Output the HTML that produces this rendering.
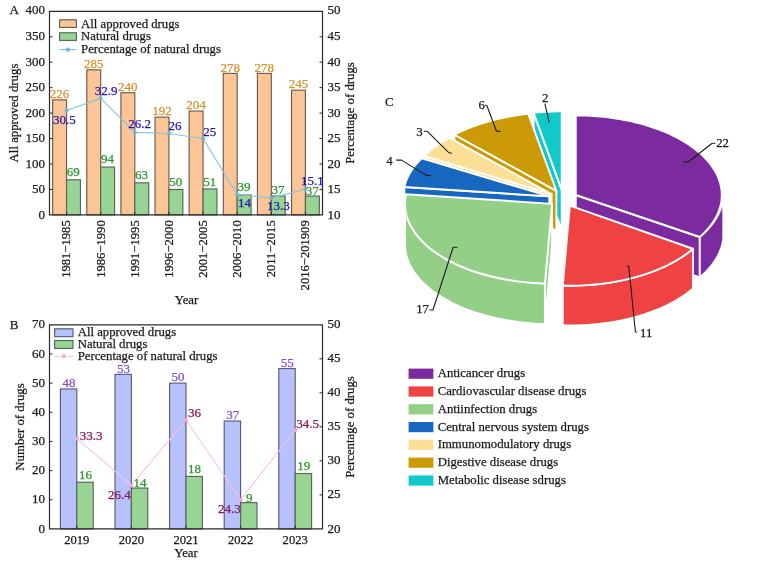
<!DOCTYPE html>
<html><head><meta charset="utf-8"><title>Figure</title>
<style>html,body{margin:0;padding:0;background:#fff}svg{display:block;will-change:transform;filter:blur(0.4px)}text{font-family:'Liberation Serif', serif;}</style></head><body>
<svg width="766" height="582" viewBox="0 0 766 582">
<rect width="766" height="582" fill="#fff"/>
<rect x="52.66" y="99.87" width="13.9" height="115.03" fill="#fbc595" stroke="#6b5c50" stroke-width="1.15"/>
<rect x="66.56" y="179.78" width="13.9" height="35.12" fill="#98d494" stroke="#56665a" stroke-width="1.15"/>
<rect x="86.79" y="69.84" width="13.9" height="145.06" fill="#fbc595" stroke="#6b5c50" stroke-width="1.15"/>
<rect x="100.69" y="167.05" width="13.9" height="47.85" fill="#98d494" stroke="#56665a" stroke-width="1.15"/>
<rect x="120.91" y="92.74" width="13.9" height="122.16" fill="#fbc595" stroke="#6b5c50" stroke-width="1.15"/>
<rect x="134.81" y="182.83" width="13.9" height="32.07" fill="#98d494" stroke="#56665a" stroke-width="1.15"/>
<rect x="155.04" y="117.17" width="13.9" height="97.73" fill="#fbc595" stroke="#6b5c50" stroke-width="1.15"/>
<rect x="168.94" y="189.45" width="13.9" height="25.45" fill="#98d494" stroke="#56665a" stroke-width="1.15"/>
<rect x="189.16" y="111.06" width="13.9" height="103.84" fill="#fbc595" stroke="#6b5c50" stroke-width="1.15"/>
<rect x="203.06" y="188.94" width="13.9" height="25.96" fill="#98d494" stroke="#56665a" stroke-width="1.15"/>
<rect x="223.29" y="73.4" width="13.9" height="141.5" fill="#fbc595" stroke="#6b5c50" stroke-width="1.15"/>
<rect x="237.19" y="195.05" width="13.9" height="19.85" fill="#98d494" stroke="#56665a" stroke-width="1.15"/>
<rect x="257.41" y="73.4" width="13.9" height="141.5" fill="#fbc595" stroke="#6b5c50" stroke-width="1.15"/>
<rect x="271.31" y="196.07" width="13.9" height="18.83" fill="#98d494" stroke="#56665a" stroke-width="1.15"/>
<rect x="291.54" y="90.19" width="13.9" height="124.71" fill="#fbc595" stroke="#6b5c50" stroke-width="1.15"/>
<rect x="305.44" y="196.07" width="13.9" height="18.83" fill="#98d494" stroke="#56665a" stroke-width="1.15"/>
<path d="M49.5 11.3H322.5V214.9H49.5Z" fill="none" stroke="#2b2b2b" stroke-width="1.2"/>
<text transform="translate(45 218.5) scale(1 1)" font-size="13" fill="#1a1a1a" stroke="#1a1a1a" stroke-width="0.25" text-anchor="end">0</text>
<path d="M49.5 189.45h3" stroke="#2b2b2b" stroke-width="1"/>
<text transform="translate(45 193.05) scale(1 1)" font-size="13" fill="#1a1a1a" stroke="#1a1a1a" stroke-width="0.25" text-anchor="end">50</text>
<path d="M49.5 164h3" stroke="#2b2b2b" stroke-width="1"/>
<text transform="translate(45 167.6) scale(1 1)" font-size="13" fill="#1a1a1a" stroke="#1a1a1a" stroke-width="0.25" text-anchor="end">100</text>
<path d="M49.5 138.55h3" stroke="#2b2b2b" stroke-width="1"/>
<text transform="translate(45 142.15) scale(1 1)" font-size="13" fill="#1a1a1a" stroke="#1a1a1a" stroke-width="0.25" text-anchor="end">150</text>
<path d="M49.5 113.1h3" stroke="#2b2b2b" stroke-width="1"/>
<text transform="translate(45 116.7) scale(1 1)" font-size="13" fill="#1a1a1a" stroke="#1a1a1a" stroke-width="0.25" text-anchor="end">200</text>
<path d="M49.5 87.65h3" stroke="#2b2b2b" stroke-width="1"/>
<text transform="translate(45 91.25) scale(1 1)" font-size="13" fill="#1a1a1a" stroke="#1a1a1a" stroke-width="0.25" text-anchor="end">250</text>
<path d="M49.5 62.2h3" stroke="#2b2b2b" stroke-width="1"/>
<text transform="translate(45 65.8) scale(1 1)" font-size="13" fill="#1a1a1a" stroke="#1a1a1a" stroke-width="0.25" text-anchor="end">300</text>
<path d="M49.5 36.75h3" stroke="#2b2b2b" stroke-width="1"/>
<text transform="translate(45 40.35) scale(1 1)" font-size="13" fill="#1a1a1a" stroke="#1a1a1a" stroke-width="0.25" text-anchor="end">350</text>
<text transform="translate(45 14.3) scale(1 1)" font-size="13" fill="#1a1a1a" stroke="#1a1a1a" stroke-width="0.25" text-anchor="end">400</text>
<text transform="translate(327.5 218.5) scale(1 1)" font-size="13" fill="#1a1a1a" stroke="#1a1a1a" stroke-width="0.25" text-anchor="start">10</text>
<path d="M322.5 189.45h-3" stroke="#2b2b2b" stroke-width="1"/>
<text transform="translate(327.5 193.05) scale(1 1)" font-size="13" fill="#1a1a1a" stroke="#1a1a1a" stroke-width="0.25" text-anchor="start">15</text>
<path d="M322.5 164h-3" stroke="#2b2b2b" stroke-width="1"/>
<text transform="translate(327.5 167.6) scale(1 1)" font-size="13" fill="#1a1a1a" stroke="#1a1a1a" stroke-width="0.25" text-anchor="start">20</text>
<path d="M322.5 138.55h-3" stroke="#2b2b2b" stroke-width="1"/>
<text transform="translate(327.5 142.15) scale(1 1)" font-size="13" fill="#1a1a1a" stroke="#1a1a1a" stroke-width="0.25" text-anchor="start">25</text>
<path d="M322.5 113.1h-3" stroke="#2b2b2b" stroke-width="1"/>
<text transform="translate(327.5 116.7) scale(1 1)" font-size="13" fill="#1a1a1a" stroke="#1a1a1a" stroke-width="0.25" text-anchor="start">30</text>
<path d="M322.5 87.65h-3" stroke="#2b2b2b" stroke-width="1"/>
<text transform="translate(327.5 91.25) scale(1 1)" font-size="13" fill="#1a1a1a" stroke="#1a1a1a" stroke-width="0.25" text-anchor="start">35</text>
<path d="M322.5 62.2h-3" stroke="#2b2b2b" stroke-width="1"/>
<text transform="translate(327.5 65.8) scale(1 1)" font-size="13" fill="#1a1a1a" stroke="#1a1a1a" stroke-width="0.25" text-anchor="start">40</text>
<path d="M322.5 36.75h-3" stroke="#2b2b2b" stroke-width="1"/>
<text transform="translate(327.5 40.35) scale(1 1)" font-size="13" fill="#1a1a1a" stroke="#1a1a1a" stroke-width="0.25" text-anchor="start">45</text>
<text transform="translate(327.5 14.3) scale(1 1)" font-size="13" fill="#1a1a1a" stroke="#1a1a1a" stroke-width="0.25" text-anchor="start">50</text>
<path d="M66.56 214.9v-3" stroke="#2b2b2b" stroke-width="1"/>
<text transform="translate(70.46 220.3) rotate(-90) scale(1 1)" font-size="12.6" fill="#1a1a1a" stroke="#1a1a1a" stroke-width="0.25" text-anchor="end">1981−1985</text>
<path d="M100.69 214.9v-3" stroke="#2b2b2b" stroke-width="1"/>
<text transform="translate(104.59 220.3) rotate(-90) scale(1 1)" font-size="12.6" fill="#1a1a1a" stroke="#1a1a1a" stroke-width="0.25" text-anchor="end">1986−1990</text>
<path d="M134.81 214.9v-3" stroke="#2b2b2b" stroke-width="1"/>
<text transform="translate(138.71 220.3) rotate(-90) scale(1 1)" font-size="12.6" fill="#1a1a1a" stroke="#1a1a1a" stroke-width="0.25" text-anchor="end">1991−1995</text>
<path d="M168.94 214.9v-3" stroke="#2b2b2b" stroke-width="1"/>
<text transform="translate(172.84 220.3) rotate(-90) scale(1 1)" font-size="12.6" fill="#1a1a1a" stroke="#1a1a1a" stroke-width="0.25" text-anchor="end">1996−2000</text>
<path d="M203.06 214.9v-3" stroke="#2b2b2b" stroke-width="1"/>
<text transform="translate(206.96 220.3) rotate(-90) scale(1 1)" font-size="12.6" fill="#1a1a1a" stroke="#1a1a1a" stroke-width="0.25" text-anchor="end">2001−2005</text>
<path d="M237.19 214.9v-3" stroke="#2b2b2b" stroke-width="1"/>
<text transform="translate(241.09 220.3) rotate(-90) scale(1 1)" font-size="12.6" fill="#1a1a1a" stroke="#1a1a1a" stroke-width="0.25" text-anchor="end">2006−2010</text>
<path d="M271.31 214.9v-3" stroke="#2b2b2b" stroke-width="1"/>
<text transform="translate(275.21 220.3) rotate(-90) scale(1 1)" font-size="12.6" fill="#1a1a1a" stroke="#1a1a1a" stroke-width="0.25" text-anchor="end">2011−2015</text>
<path d="M305.44 214.9v-3" stroke="#2b2b2b" stroke-width="1"/>
<text transform="translate(309.34 220.3) rotate(-90) scale(1 1)" font-size="12.6" fill="#1a1a1a" stroke="#1a1a1a" stroke-width="0.25" text-anchor="end">2016−201909</text>
<polyline points="66.56,110.56 100.69,98.34 134.81,132.44 168.94,133.46 203.06,138.55 237.19,194.54 271.31,198.1 305.44,188.94" fill="none" stroke="#86c5dc" stroke-width="1.15" stroke-linejoin="round"/>
<circle cx="66.56" cy="110.56" r="1.95" fill="#66bad6"/>
<circle cx="100.69" cy="98.34" r="1.95" fill="#66bad6"/>
<circle cx="134.81" cy="132.44" r="1.95" fill="#66bad6"/>
<circle cx="168.94" cy="133.46" r="1.95" fill="#66bad6"/>
<circle cx="203.06" cy="138.55" r="1.95" fill="#66bad6"/>
<circle cx="237.19" cy="194.54" r="1.95" fill="#66bad6"/>
<circle cx="271.31" cy="198.1" r="1.95" fill="#66bad6"/>
<circle cx="305.44" cy="188.94" r="1.95" fill="#66bad6"/>
<text transform="translate(59.61 97.97) scale(1 1)" font-size="13" fill="#d8902a" stroke="#d8902a" stroke-width="0.25" text-anchor="middle">226</text>
<text transform="translate(93.74 67.94) scale(1 1)" font-size="13" fill="#d8902a" stroke="#d8902a" stroke-width="0.25" text-anchor="middle">285</text>
<text transform="translate(127.86 90.84) scale(1 1)" font-size="13" fill="#d8902a" stroke="#d8902a" stroke-width="0.25" text-anchor="middle">240</text>
<text transform="translate(161.99 115.27) scale(1 1)" font-size="13" fill="#d8902a" stroke="#d8902a" stroke-width="0.25" text-anchor="middle">192</text>
<text transform="translate(196.11 109.16) scale(1 1)" font-size="13" fill="#d8902a" stroke="#d8902a" stroke-width="0.25" text-anchor="middle">204</text>
<text transform="translate(230.24 71.5) scale(1 1)" font-size="13" fill="#d8902a" stroke="#d8902a" stroke-width="0.25" text-anchor="middle">278</text>
<text transform="translate(264.36 71.5) scale(1 1)" font-size="13" fill="#d8902a" stroke="#d8902a" stroke-width="0.25" text-anchor="middle">278</text>
<text transform="translate(298.49 88.29) scale(1 1)" font-size="13" fill="#d8902a" stroke="#d8902a" stroke-width="0.25" text-anchor="middle">245</text>
<text transform="translate(73.31 176.18) scale(1 1)" font-size="13" fill="#2a962a" stroke="#2a962a" stroke-width="0.25" text-anchor="middle">69</text>
<text transform="translate(107.44 163.45) scale(1 1)" font-size="13" fill="#2a962a" stroke="#2a962a" stroke-width="0.25" text-anchor="middle">94</text>
<text transform="translate(141.56 179.23) scale(1 1)" font-size="13" fill="#2a962a" stroke="#2a962a" stroke-width="0.25" text-anchor="middle">63</text>
<text transform="translate(175.69 186.05) scale(1 1)" font-size="13" fill="#2a962a" stroke="#2a962a" stroke-width="0.25" text-anchor="middle">50</text>
<text transform="translate(209.81 185.54) scale(1 1)" font-size="13" fill="#2a962a" stroke="#2a962a" stroke-width="0.25" text-anchor="middle">51</text>
<text transform="translate(243.94 191.05) scale(1 1)" font-size="13" fill="#2a962a" stroke="#2a962a" stroke-width="0.25" text-anchor="middle">39</text>
<text transform="translate(278.06 193.77) scale(1 1)" font-size="13" fill="#2a962a" stroke="#2a962a" stroke-width="0.25" text-anchor="middle">37</text>
<text transform="translate(312.19 195.07) scale(1 1)" font-size="13" fill="#2a962a" stroke="#2a962a" stroke-width="0.25" text-anchor="middle">37</text>
<text transform="translate(53 124.2) scale(1 1)" font-size="13" fill="#2216b5" stroke="#2216b5" stroke-width="0.25" text-anchor="start">30.5</text>
<text transform="translate(94.8 94.8) scale(1 1)" font-size="13" fill="#2216b5" stroke="#2216b5" stroke-width="0.25" text-anchor="start">32.9</text>
<text transform="translate(128.3 127.7) scale(1 1)" font-size="13" fill="#2216b5" stroke="#2216b5" stroke-width="0.25" text-anchor="start">26.2</text>
<text transform="translate(168.6 130) scale(1 1)" font-size="13" fill="#2216b5" stroke="#2216b5" stroke-width="0.25" text-anchor="start">26</text>
<text transform="translate(203.2 135.7) scale(1 1)" font-size="13" fill="#2216b5" stroke="#2216b5" stroke-width="0.25" text-anchor="start">25</text>
<text transform="translate(238 207.4) scale(1 1)" font-size="13" fill="#2216b5" stroke="#2216b5" stroke-width="0.25" text-anchor="start">14</text>
<text transform="translate(267 210.2) scale(1 1)" font-size="13" fill="#2216b5" stroke="#2216b5" stroke-width="0.25" text-anchor="start">13.3</text>
<text transform="translate(301 184.7) scale(1 1)" font-size="13" fill="#2216b5" stroke="#2216b5" stroke-width="0.25" text-anchor="start">15.1</text>
<rect x="59.6" y="19.8" width="16.8" height="7.6" fill="#fbc595" stroke="#6b5c50" stroke-width="1.15"/>
<rect x="59.6" y="32.8" width="16.8" height="7.6" fill="#98d494" stroke="#56665a" stroke-width="1.15"/>
<path d="M59.4 49.6h17" stroke="#86c5dc" stroke-width="1.15"/>
<circle cx="67.9" cy="49.6" r="2.2" fill="#6bbcd8"/>
<text transform="translate(81.1 27.5) scale(1 1)" font-size="12.75" fill="#1a1a1a" stroke="#1a1a1a" stroke-width="0.25" text-anchor="start">All approved drugs</text>
<text transform="translate(81.1 40.3) scale(1 1)" font-size="12.75" fill="#1a1a1a" stroke="#1a1a1a" stroke-width="0.25" text-anchor="start">Natural drugs</text>
<text transform="translate(81.1 53.2) scale(1 1)" font-size="12.75" fill="#1a1a1a" stroke="#1a1a1a" stroke-width="0.25" text-anchor="start">Percentage of natural drugs</text>
<text transform="translate(9.6 14.1) scale(1 1)" font-size="13" fill="#1a1a1a" stroke="#1a1a1a" stroke-width="0.25" text-anchor="start">A</text>
<text transform="translate(17.9 113) rotate(-90) scale(1 1)" font-size="12.8" fill="#1a1a1a" stroke="#1a1a1a" stroke-width="0.25" text-anchor="middle">All approved drugs</text>
<text transform="translate(354 113) rotate(-90) scale(1 1)" font-size="12.8" fill="#1a1a1a" stroke="#1a1a1a" stroke-width="0.25" text-anchor="middle">Percentage of drugs</text>
<text transform="translate(186.5 303.8) scale(1 1)" font-size="12.8" fill="#1a1a1a" stroke="#1a1a1a" stroke-width="0.25" text-anchor="middle">Year</text>
<rect x="60.4" y="388.95" width="16.4" height="139.95" fill="#b7c1fb" stroke="#585c78" stroke-width="1.15"/>
<rect x="76.8" y="482.25" width="16.4" height="46.65" fill="#98d494" stroke="#56665a" stroke-width="1.15"/>
<rect x="115" y="374.37" width="16.4" height="154.53" fill="#b7c1fb" stroke="#585c78" stroke-width="1.15"/>
<rect x="131.4" y="488.08" width="16.4" height="40.82" fill="#98d494" stroke="#56665a" stroke-width="1.15"/>
<rect x="169.6" y="383.11" width="16.4" height="145.79" fill="#b7c1fb" stroke="#585c78" stroke-width="1.15"/>
<rect x="186" y="476.42" width="16.4" height="52.48" fill="#98d494" stroke="#56665a" stroke-width="1.15"/>
<rect x="224.2" y="421.02" width="16.4" height="107.88" fill="#b7c1fb" stroke="#585c78" stroke-width="1.15"/>
<rect x="240.6" y="502.66" width="16.4" height="26.24" fill="#98d494" stroke="#56665a" stroke-width="1.15"/>
<rect x="278.8" y="368.54" width="16.4" height="160.36" fill="#b7c1fb" stroke="#585c78" stroke-width="1.15"/>
<rect x="295.2" y="473.5" width="16.4" height="55.4" fill="#98d494" stroke="#56665a" stroke-width="1.15"/>
<path d="M49.5 324.8H322.5V528.9H49.5Z" fill="none" stroke="#2b2b2b" stroke-width="1.2"/>
<text transform="translate(45 532.5) scale(1 1)" font-size="13" fill="#1a1a1a" stroke="#1a1a1a" stroke-width="0.25" text-anchor="end">0</text>
<path d="M49.5 499.74h3" stroke="#2b2b2b" stroke-width="1"/>
<text transform="translate(45 503.34) scale(1 1)" font-size="13" fill="#1a1a1a" stroke="#1a1a1a" stroke-width="0.25" text-anchor="end">10</text>
<path d="M49.5 470.59h3" stroke="#2b2b2b" stroke-width="1"/>
<text transform="translate(45 474.19) scale(1 1)" font-size="13" fill="#1a1a1a" stroke="#1a1a1a" stroke-width="0.25" text-anchor="end">20</text>
<path d="M49.5 441.43h3" stroke="#2b2b2b" stroke-width="1"/>
<text transform="translate(45 445.03) scale(1 1)" font-size="13" fill="#1a1a1a" stroke="#1a1a1a" stroke-width="0.25" text-anchor="end">30</text>
<path d="M49.5 412.27h3" stroke="#2b2b2b" stroke-width="1"/>
<text transform="translate(45 415.87) scale(1 1)" font-size="13" fill="#1a1a1a" stroke="#1a1a1a" stroke-width="0.25" text-anchor="end">40</text>
<path d="M49.5 383.11h3" stroke="#2b2b2b" stroke-width="1"/>
<text transform="translate(45 386.71) scale(1 1)" font-size="13" fill="#1a1a1a" stroke="#1a1a1a" stroke-width="0.25" text-anchor="end">50</text>
<path d="M49.5 353.96h3" stroke="#2b2b2b" stroke-width="1"/>
<text transform="translate(45 357.56) scale(1 1)" font-size="13" fill="#1a1a1a" stroke="#1a1a1a" stroke-width="0.25" text-anchor="end">60</text>
<text transform="translate(45 327.8) scale(1 1)" font-size="13" fill="#1a1a1a" stroke="#1a1a1a" stroke-width="0.25" text-anchor="end">70</text>
<text transform="translate(327.5 532.5) scale(1 1)" font-size="13" fill="#1a1a1a" stroke="#1a1a1a" stroke-width="0.25" text-anchor="start">20</text>
<path d="M322.5 494.88h-3" stroke="#2b2b2b" stroke-width="1"/>
<text transform="translate(327.5 498.48) scale(1 1)" font-size="13" fill="#1a1a1a" stroke="#1a1a1a" stroke-width="0.25" text-anchor="start">25</text>
<path d="M322.5 460.87h-3" stroke="#2b2b2b" stroke-width="1"/>
<text transform="translate(327.5 464.47) scale(1 1)" font-size="13" fill="#1a1a1a" stroke="#1a1a1a" stroke-width="0.25" text-anchor="start">30</text>
<path d="M322.5 426.85h-3" stroke="#2b2b2b" stroke-width="1"/>
<text transform="translate(327.5 430.45) scale(1 1)" font-size="13" fill="#1a1a1a" stroke="#1a1a1a" stroke-width="0.25" text-anchor="start">35</text>
<path d="M322.5 392.83h-3" stroke="#2b2b2b" stroke-width="1"/>
<text transform="translate(327.5 396.43) scale(1 1)" font-size="13" fill="#1a1a1a" stroke="#1a1a1a" stroke-width="0.25" text-anchor="start">40</text>
<path d="M322.5 358.82h-3" stroke="#2b2b2b" stroke-width="1"/>
<text transform="translate(327.5 362.42) scale(1 1)" font-size="13" fill="#1a1a1a" stroke="#1a1a1a" stroke-width="0.25" text-anchor="start">45</text>
<text transform="translate(327.5 327.8) scale(1 1)" font-size="13" fill="#1a1a1a" stroke="#1a1a1a" stroke-width="0.25" text-anchor="start">50</text>
<path d="M76.8 528.9v-3" stroke="#2b2b2b" stroke-width="1"/>
<text transform="translate(76.8 543.5) scale(1 1)" font-size="12.6" fill="#1a1a1a" stroke="#1a1a1a" stroke-width="0.25" text-anchor="middle">2019</text>
<path d="M131.4 528.9v-3" stroke="#2b2b2b" stroke-width="1"/>
<text transform="translate(131.4 543.5) scale(1 1)" font-size="12.6" fill="#1a1a1a" stroke="#1a1a1a" stroke-width="0.25" text-anchor="middle">2020</text>
<path d="M186 528.9v-3" stroke="#2b2b2b" stroke-width="1"/>
<text transform="translate(186 543.5) scale(1 1)" font-size="12.6" fill="#1a1a1a" stroke="#1a1a1a" stroke-width="0.25" text-anchor="middle">2021</text>
<path d="M240.6 528.9v-3" stroke="#2b2b2b" stroke-width="1"/>
<text transform="translate(240.6 543.5) scale(1 1)" font-size="12.6" fill="#1a1a1a" stroke="#1a1a1a" stroke-width="0.25" text-anchor="middle">2022</text>
<path d="M295.2 528.9v-3" stroke="#2b2b2b" stroke-width="1"/>
<text transform="translate(295.2 543.5) scale(1 1)" font-size="12.6" fill="#1a1a1a" stroke="#1a1a1a" stroke-width="0.25" text-anchor="middle">2023</text>
<polyline points="76.8,438.42 131.4,485.36 186,420.05 240.6,499.65 295.2,430.25" fill="none" stroke="#f8c3e3" stroke-width="1.05" stroke-linejoin="round"/>
<rect x="75" y="436.62" width="3.6" height="3.6" fill="#f6a9d8"/>
<rect x="129.6" y="483.56" width="3.6" height="3.6" fill="#f6a9d8"/>
<rect x="184.2" y="418.25" width="3.6" height="3.6" fill="#f6a9d8"/>
<rect x="238.8" y="497.85" width="3.6" height="3.6" fill="#f6a9d8"/>
<rect x="293.4" y="428.45" width="3.6" height="3.6" fill="#f6a9d8"/>
<text transform="translate(68.9 387.15) scale(1 1)" font-size="13" fill="#8a4fd6" stroke="#8a4fd6" stroke-width="0.25" text-anchor="middle">48</text>
<text transform="translate(123.5 372.57) scale(1 1)" font-size="13" fill="#8a4fd6" stroke="#8a4fd6" stroke-width="0.25" text-anchor="middle">53</text>
<text transform="translate(178.1 381.31) scale(1 1)" font-size="13" fill="#8a4fd6" stroke="#8a4fd6" stroke-width="0.25" text-anchor="middle">50</text>
<text transform="translate(232.7 419.22) scale(1 1)" font-size="13" fill="#8a4fd6" stroke="#8a4fd6" stroke-width="0.25" text-anchor="middle">37</text>
<text transform="translate(287.3 366.74) scale(1 1)" font-size="13" fill="#8a4fd6" stroke="#8a4fd6" stroke-width="0.25" text-anchor="middle">55</text>
<text transform="translate(85.4 478.85) scale(1 1)" font-size="13" fill="#2a962a" stroke="#2a962a" stroke-width="0.25" text-anchor="middle">16</text>
<text transform="translate(140 487.28) scale(1 1)" font-size="13" fill="#2a962a" stroke="#2a962a" stroke-width="0.25" text-anchor="middle">14</text>
<text transform="translate(194.6 473.12) scale(1 1)" font-size="13" fill="#2a962a" stroke="#2a962a" stroke-width="0.25" text-anchor="middle">18</text>
<text transform="translate(249.2 501.66) scale(1 1)" font-size="13" fill="#2a962a" stroke="#2a962a" stroke-width="0.25" text-anchor="middle">9</text>
<text transform="translate(303.8 469.9) scale(1 1)" font-size="13" fill="#2a962a" stroke="#2a962a" stroke-width="0.25" text-anchor="middle">19</text>
<text transform="translate(79.7 440.3) scale(1 1)" font-size="13" fill="#8c145a" stroke="#8c145a" stroke-width="0.25" text-anchor="start">33.3</text>
<text transform="translate(108.1 498.5) scale(1 1)" font-size="13" fill="#8c145a" stroke="#8c145a" stroke-width="0.25" text-anchor="start">26.4</text>
<text transform="translate(188 417.2) scale(1 1)" font-size="13" fill="#8c145a" stroke="#8c145a" stroke-width="0.25" text-anchor="start">36</text>
<text transform="translate(217.9 512.5) scale(1 1)" font-size="13" fill="#8c145a" stroke="#8c145a" stroke-width="0.25" text-anchor="start">24.3</text>
<text transform="translate(296.2 428) scale(1 1)" font-size="13" fill="#8c145a" stroke="#8c145a" stroke-width="0.25" text-anchor="start">34.5</text>
<rect x="54.6" y="328.8" width="18.4" height="7.9" fill="#b7c1fb" stroke="#585c78" stroke-width="1.15"/>
<rect x="54.6" y="340.5" width="18.4" height="7.9" fill="#98d494" stroke="#56665a" stroke-width="1.15"/>
<path d="M54.4 356.3h19" stroke="#f8c3e3" stroke-width="1.05"/>
<rect x="62" y="354.5" width="3.6" height="3.6" fill="#f6a9d8"/>
<text transform="translate(77.7 336.2) scale(1 1)" font-size="12.75" fill="#1a1a1a" stroke="#1a1a1a" stroke-width="0.25" text-anchor="start">All approved drugs</text>
<text transform="translate(77.7 347.7) scale(1 1)" font-size="12.75" fill="#1a1a1a" stroke="#1a1a1a" stroke-width="0.25" text-anchor="start">Natural drugs</text>
<text transform="translate(77.7 359.8) scale(1 1)" font-size="12.75" fill="#1a1a1a" stroke="#1a1a1a" stroke-width="0.25" text-anchor="start">Percentage of natural drugs</text>
<text transform="translate(9.8 329.3) scale(1 1)" font-size="13" fill="#1a1a1a" stroke="#1a1a1a" stroke-width="0.25" text-anchor="start">B</text>
<text transform="translate(23.5 427) rotate(-90) scale(1 1)" font-size="12.8" fill="#1a1a1a" stroke="#1a1a1a" stroke-width="0.25" text-anchor="middle">Number of drugs</text>
<text transform="translate(354 427) rotate(-90) scale(1 1)" font-size="12.8" fill="#1a1a1a" stroke="#1a1a1a" stroke-width="0.25" text-anchor="middle">Percentage of drugs</text>
<text transform="translate(186 556.5) scale(1 1)" font-size="12.8" fill="#1a1a1a" stroke="#1a1a1a" stroke-width="0.25" text-anchor="middle">Year</text>
<path d="M561.7 189.84L533.65 112.8L533.65 152.8L561.7 229.84Z" fill="#10c9c9" stroke="#fff" stroke-width="1.9" stroke-linejoin="round"/>
<path d="M556.36 190.89L454.38 134.72L454.38 174.72L556.36 230.89Z" fill="#cc9a06" stroke="#fff" stroke-width="1.9" stroke-linejoin="round"/>
<path d="M551.58 194.06L423.98 155.91L423.98 195.91L551.58 234.06Z" fill="#fcdf96" stroke="#fff" stroke-width="1.9" stroke-linejoin="round"/>
<path d="M549.31 196.39L404.37 186.93L404.37 199.93L549.31 209.39Z" fill="#1767c1" stroke="#fff" stroke-width="1.9" stroke-linejoin="round"/>
<path d="M575.77 195.01L699.79 237.01L699.79 277.41L575.77 235.41Z" fill="#7c2a9f" stroke="#fff" stroke-width="1.9" stroke-linejoin="round"/>
<path d="M723.28 197.79L722.91 200.55L722.36 203.3L721.63 206.05L720.73 208.78L719.65 211.49L718.41 214.18L716.99 216.85L715.4 219.5L713.65 222.11L711.73 224.7L709.66 227.24L707.42 229.75L705.03 232.22L702.49 234.64L699.79 237.01L699.79 277.41L702.49 275.04L705.03 272.62L707.42 270.15L709.66 267.64L711.73 265.1L713.65 262.51L715.4 259.9L716.99 257.25L718.41 254.58L719.65 251.89L720.73 249.18L721.63 246.45L722.36 243.7L722.91 240.95L723.28 238.19Z" fill="#7c2a9f" stroke="#fff" stroke-width="1.9" stroke-linejoin="round"/>
<path d="M552.02 203.83L544.92 283.44L544.92 324.04L552.02 244.43Z" fill="#94cf88" stroke="#fff" stroke-width="1.9" stroke-linejoin="round"/>
<path d="M544.92 283.44L539.84 283.26L534.78 282.98L529.74 282.61L524.73 282.14L519.75 281.59L514.8 280.93L509.91 280.19L505.06 279.35L500.27 278.43L495.54 277.41L490.88 276.31L486.29 275.12L481.78 273.84L477.36 272.48L473.02 271.04L468.78 269.52L464.64 267.92L460.6 266.24L456.67 264.49L452.86 262.67L449.16 260.77L445.59 258.81L442.15 256.78L438.83 254.69L435.66 252.53L432.62 250.32L429.72 248.05L426.98 245.73L424.38 243.36L421.93 240.95L419.64 238.48L417.51 235.98L415.54 233.44L413.73 230.86L412.09 228.25L410.61 225.61L409.31 222.95L408.17 220.26L407.21 217.55L406.42 214.83L405.81 212.09L405.37 209.34L405.11 206.59L405.02 203.83L405.02 244.43L405.11 247.19L405.37 249.94L405.81 252.69L406.42 255.43L407.21 258.15L408.17 260.86L409.31 263.55L410.61 266.21L412.09 268.85L413.73 271.46L415.54 274.04L417.51 276.58L419.64 279.08L421.93 281.55L424.38 283.96L426.98 286.33L429.72 288.65L432.62 290.92L435.66 293.13L438.83 295.29L442.15 297.38L445.59 299.41L449.16 301.37L452.86 303.27L456.67 305.09L460.6 306.84L464.64 308.52L468.78 310.12L473.02 311.64L477.36 313.08L481.78 314.44L486.29 315.72L490.88 316.91L495.54 318.01L500.27 319.03L505.06 319.95L509.91 320.79L514.8 321.53L519.75 322.19L524.73 322.74L529.74 323.21L534.78 323.58L539.84 323.86L544.92 324.04Z" fill="#94cf88" stroke="#fff" stroke-width="1.9" stroke-linejoin="round"/>
<path d="M692.91 248.74L690.18 251.01L687.31 253.22L684.3 255.37L681.16 257.47L677.89 259.51L674.5 261.48L670.99 263.39L667.37 265.24L663.63 267.02L659.78 268.72L655.83 270.36L651.78 271.92L647.64 273.4L643.4 274.81L639.09 276.14L634.69 277.38L630.22 278.54L625.68 279.62L621.07 280.62L616.41 281.53L611.69 282.35L606.92 283.08L602.12 283.73L597.27 284.28L592.39 284.75L587.49 285.12L582.57 285.4L577.63 285.59L572.68 285.69L567.73 285.7L562.78 285.61L562.78 325.41L567.73 325.5L572.68 325.49L577.63 325.39L582.57 325.2L587.49 324.92L592.39 324.55L597.27 324.08L602.12 323.53L606.92 322.88L611.69 322.15L616.41 321.33L621.07 320.42L625.68 319.42L630.22 318.34L634.69 317.18L639.09 315.94L643.4 314.61L647.64 313.2L651.78 311.72L655.83 310.16L659.78 308.52L663.63 306.82L667.37 305.04L670.99 303.19L674.5 301.28L677.89 299.31L681.16 297.27L684.3 295.17L687.31 293.02L690.18 290.81L692.91 288.54Z" fill="#ef4343" stroke="#fff" stroke-width="1.9" stroke-linejoin="round"/>
<path d="M561.7 189.84L533.65 112.8L538.28 112.35L542.94 111.99L547.61 111.7L552.3 111.5L557 111.38L561.7 111.34Z" fill="#10c9c9" stroke="#fff" stroke-width="1.9" stroke-linejoin="round"/>
<path d="M556.36 190.89L454.38 134.72L458 132.88L461.74 131.11L465.59 129.41L469.54 127.78L473.59 126.23L477.75 124.75L481.99 123.34L486.32 122.02L490.73 120.77L495.21 119.61L499.77 118.53L504.4 117.53L509.08 116.62L513.82 115.8L518.61 115.06L523.44 114.42L528.31 113.86Z" fill="#cc9a06" stroke="#fff" stroke-width="1.9" stroke-linejoin="round"/>
<path d="M551.58 194.06L423.98 155.91L426.33 153.72L428.81 151.58L431.42 149.47L434.16 147.41L437.01 145.4L439.99 143.44L443.08 141.54L446.28 139.69L449.6 137.89Z" fill="#fcdf96" stroke="#fff" stroke-width="1.9" stroke-linejoin="round"/>
<path d="M549.31 196.39L404.37 186.93L405.02 184.42L405.81 181.93L406.75 179.45L407.84 176.99L409.07 174.55L410.46 172.13L411.98 169.74L413.65 167.37L415.46 165.04L417.41 162.74L419.49 160.47L421.71 158.24Z" fill="#1767c1" stroke="#fff" stroke-width="1.9" stroke-linejoin="round"/>
<path d="M575.77 195.01L575.77 115.41L580.86 115.46L585.94 115.6L591.01 115.84L596.07 116.18L601.09 116.62L606.09 117.14L611.05 117.77L615.97 118.49L620.83 119.3L625.65 120.2L630.4 121.19L635.09 122.27L639.7 123.45L644.24 124.7L648.69 126.05L653.05 127.48L657.32 128.98L661.5 130.57L665.56 132.24L669.52 133.99L673.37 135.81L677.09 137.7L680.69 139.66L684.17 141.68L687.51 143.78L690.72 145.93L693.79 148.15L696.71 150.42L699.49 152.74L702.12 155.12L704.59 157.54L706.91 160.01L709.06 162.53L711.06 165.08L712.89 167.67L714.56 170.29L716.05 172.94L717.38 175.62L718.53 178.33L719.51 181.05L720.31 183.79L720.94 186.54L721.4 189.31L721.67 192.08L721.77 194.85L721.69 197.63L721.44 200.4L721 203.16L720.4 205.92L719.61 208.66L718.65 211.38L717.52 214.09L716.21 216.77L714.73 219.43L713.09 222.05L711.28 224.65L709.3 227.2L707.16 229.72L704.86 232.2L702.4 234.63L699.79 237.01Z" fill="#7c2a9f" stroke="#fff" stroke-width="1.9" stroke-linejoin="round"/>
<path d="M552.02 203.83L544.92 283.44L539.89 283.26L534.89 282.99L529.9 282.62L524.94 282.17L520.01 281.62L515.12 280.98L510.27 280.25L505.47 279.43L500.72 278.52L496.04 277.52L491.42 276.44L486.87 275.27L482.4 274.02L478.01 272.69L473.7 271.28L469.49 269.78L465.37 268.21L461.36 266.57L457.45 264.85L453.66 263.06L449.97 261.2L446.41 259.27L442.97 257.28L439.66 255.22L436.48 253.11L433.44 250.94L430.54 248.71L427.77 246.43L425.16 244.1L422.69 241.72L420.37 239.3L418.21 236.83L416.21 234.33L414.36 231.79L412.68 229.22L411.16 226.62L409.8 223.99L408.61 221.34L407.59 218.67L406.74 215.98L406.05 213.28L405.54 210.56L405.2 207.84L405.04 205.11L405.04 202.39L405.22 199.66L405.57 196.94L406.09 194.22Z" fill="#94cf88" stroke="#fff" stroke-width="1.9" stroke-linejoin="round"/>
<path d="M569.84 205.71L692.91 248.74L690.18 251.01L687.31 253.22L684.3 255.37L681.16 257.47L677.89 259.51L674.5 261.48L670.99 263.39L667.37 265.24L663.63 267.02L659.78 268.72L655.83 270.36L651.78 271.92L647.64 273.4L643.4 274.81L639.09 276.14L634.69 277.38L630.22 278.54L625.68 279.62L621.07 280.62L616.41 281.53L611.69 282.35L606.92 283.08L602.12 283.73L597.27 284.28L592.39 284.75L587.49 285.12L582.57 285.4L577.63 285.59L572.68 285.69L567.73 285.7L562.78 285.61Z" fill="#ef4343" stroke="#fff" stroke-width="1.9" stroke-linejoin="round"/>
<polyline points="683.2,161.8 688.5,161.8 712.2,143.2 715.5,143.2" fill="none" stroke="#1a1a1a" stroke-width="1.1" stroke-linejoin="round"/>
<text transform="translate(716.2 147) scale(1 1)" font-size="12.8" fill="#1a1a1a" stroke="#1a1a1a" stroke-width="0.25" text-anchor="start">22</text>
<polyline points="626.6,265.7 628.8,266.5 635.4,331.7 637.2,332.2" fill="none" stroke="#1a1a1a" stroke-width="1.1" stroke-linejoin="round"/>
<text transform="translate(640 337) scale(1 1)" font-size="12.8" fill="#1a1a1a" stroke="#1a1a1a" stroke-width="0.25" text-anchor="start">11</text>
<polyline points="457.4,247.3 453.1,247.3 433,310 429.4,310" fill="none" stroke="#1a1a1a" stroke-width="1.1" stroke-linejoin="round"/>
<text transform="translate(416.2 313) scale(1 1)" font-size="12.8" fill="#1a1a1a" stroke="#1a1a1a" stroke-width="0.25" text-anchor="start">17</text>
<polyline points="396.3,160.1 401.5,160.1 426.4,175.4 430.7,175.6" fill="none" stroke="#1a1a1a" stroke-width="1.1" stroke-linejoin="round"/>
<text transform="translate(386.3 164.8) scale(1 1)" font-size="12.8" fill="#1a1a1a" stroke="#1a1a1a" stroke-width="0.25" text-anchor="start">4</text>
<polyline points="423.8,131.3 427.3,131.3 448.8,152.7 451.9,153.3" fill="none" stroke="#1a1a1a" stroke-width="1.1" stroke-linejoin="round"/>
<text transform="translate(416.2 135.6) scale(1 1)" font-size="12.8" fill="#1a1a1a" stroke="#1a1a1a" stroke-width="0.25" text-anchor="start">3</text>
<polyline points="485.2,105.1 486.9,105.8 496.5,131.2 500.4,131.4" fill="none" stroke="#1a1a1a" stroke-width="1.1" stroke-linejoin="round"/>
<text transform="translate(478.6 108.6) scale(1 1)" font-size="12.8" fill="#1a1a1a" stroke="#1a1a1a" stroke-width="0.25" text-anchor="start">6</text>
<polyline points="544.9,103.6 549.2,122.6" fill="none" stroke="#1a1a1a" stroke-width="1.1" stroke-linejoin="round"/>
<text transform="translate(542 101.5) scale(1 1)" font-size="12.8" fill="#1a1a1a" stroke="#1a1a1a" stroke-width="0.25" text-anchor="start">2</text>
<text transform="translate(385 105.8) scale(1 1)" font-size="12.8" fill="#1a1a1a" stroke="#1a1a1a" stroke-width="0.25" text-anchor="start">C</text>
<rect x="408.6" y="368.6" width="24.8" height="10.2" fill="#7c2a9f"/>
<text transform="translate(437.7 377.1) scale(1 1)" font-size="12.75" fill="#1a1a1a" stroke="#1a1a1a" stroke-width="0.25" text-anchor="start">Anticancer drugs</text>
<rect x="408.6" y="386.4" width="24.8" height="10.2" fill="#ef4343"/>
<text transform="translate(437.7 394.9) scale(1 1)" font-size="12.75" fill="#1a1a1a" stroke="#1a1a1a" stroke-width="0.25" text-anchor="start">Cardiovascular disease drugs</text>
<rect x="408.6" y="404.2" width="24.8" height="10.2" fill="#94cf88"/>
<text transform="translate(437.7 412.7) scale(1 1)" font-size="12.75" fill="#1a1a1a" stroke="#1a1a1a" stroke-width="0.25" text-anchor="start">Antiinfection drugs</text>
<rect x="408.6" y="422" width="24.8" height="10.2" fill="#1767c1"/>
<text transform="translate(437.7 430.5) scale(1 1)" font-size="12.75" fill="#1a1a1a" stroke="#1a1a1a" stroke-width="0.25" text-anchor="start">Central nervous system drugs</text>
<rect x="408.6" y="439.8" width="24.8" height="10.2" fill="#fcdf96"/>
<text transform="translate(437.7 448.3) scale(1 1)" font-size="12.75" fill="#1a1a1a" stroke="#1a1a1a" stroke-width="0.25" text-anchor="start">Immunomodulatory drugs</text>
<rect x="408.6" y="457.6" width="24.8" height="10.2" fill="#cc9a06"/>
<text transform="translate(437.7 466.1) scale(1 1)" font-size="12.75" fill="#1a1a1a" stroke="#1a1a1a" stroke-width="0.25" text-anchor="start">Digestive disease drugs</text>
<rect x="408.6" y="475.4" width="24.8" height="10.2" fill="#10c9c9"/>
<text transform="translate(437.7 483.9) scale(1 1)" font-size="12.75" fill="#1a1a1a" stroke="#1a1a1a" stroke-width="0.25" text-anchor="start">Metabolic disease sdrugs</text>
</svg></body></html>
